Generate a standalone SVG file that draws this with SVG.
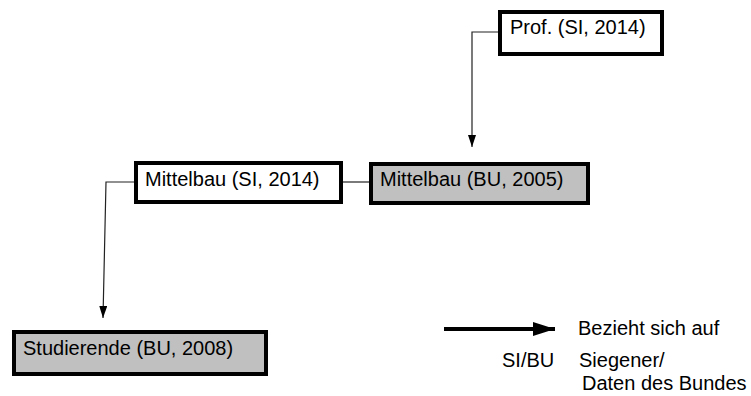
<svg xmlns="http://www.w3.org/2000/svg" width="751" height="396" viewBox="0 0 751 396">
<defs>
<style>
.box{stroke:#000;stroke-width:4;}
.white{fill:#fff;}
.gray{fill:#c0c0c0;}
.lbl{font-family:"Liberation Sans",Arial,sans-serif;font-size:20px;fill:#000;}
.conn{fill:none;stroke:#222;stroke-width:1.2;}
</style>
<marker id="ah" viewBox="0 0 12 8" refX="12" refY="4" markerWidth="12" markerHeight="8" markerUnits="userSpaceOnUse" orient="auto">
<path d="M0,0 L12,4 L0,8 Z" fill="#000"/>
</marker>
<marker id="ahBig" viewBox="0 0 22 14" refX="22" refY="7" markerWidth="22" markerHeight="14" markerUnits="userSpaceOnUse" orient="auto">
<path d="M0,0 L22,7 L0,14 Z" fill="#000"/>
</marker>
</defs>
<rect width="751" height="396" fill="#fff"/>
<g id="connectors">
<path class="conn" d="M498,32 L472,32 L472,147" marker-end="url(#ah)"/>
<path class="conn" d="M343,182 L369,182"/>
<path class="conn" d="M134,182 L106,182 L103,318" marker-end="url(#ah)"/>
</g>
<g id="prof">
<rect class="box white" x="500" y="12" width="162" height="42"/>
<text class="lbl" x="510" y="34">Prof. (SI, 2014)</text>
</g>
<g id="mittelbau-si">
<rect class="box white" x="136" y="163" width="205" height="39"/>
<text class="lbl" x="145" y="186">Mittelbau (SI, 2014)</text>
</g>
<g id="mittelbau-bu">
<rect class="box gray" x="371" y="164" width="217" height="39"/>
<text class="lbl" x="380" y="186">Mittelbau (BU, 2005)</text>
</g>
<g id="studierende">
<rect class="box gray" x="14" y="332" width="252" height="42"/>
<text class="lbl" x="23" y="355">Studierende (BU, 2008)</text>
</g>
<g id="legend">
<line x1="444" y1="329" x2="555" y2="329" stroke="#000" stroke-width="4" marker-end="url(#ahBig)"/>
<text class="lbl" x="578" y="335">Bezieht sich auf</text>
<text class="lbl" x="502" y="367">SI/BU</text>
<text class="lbl" x="579" y="367">Siegener/</text>
<text class="lbl" x="582" y="390">Daten des Bundes</text>
</g>
</svg>
